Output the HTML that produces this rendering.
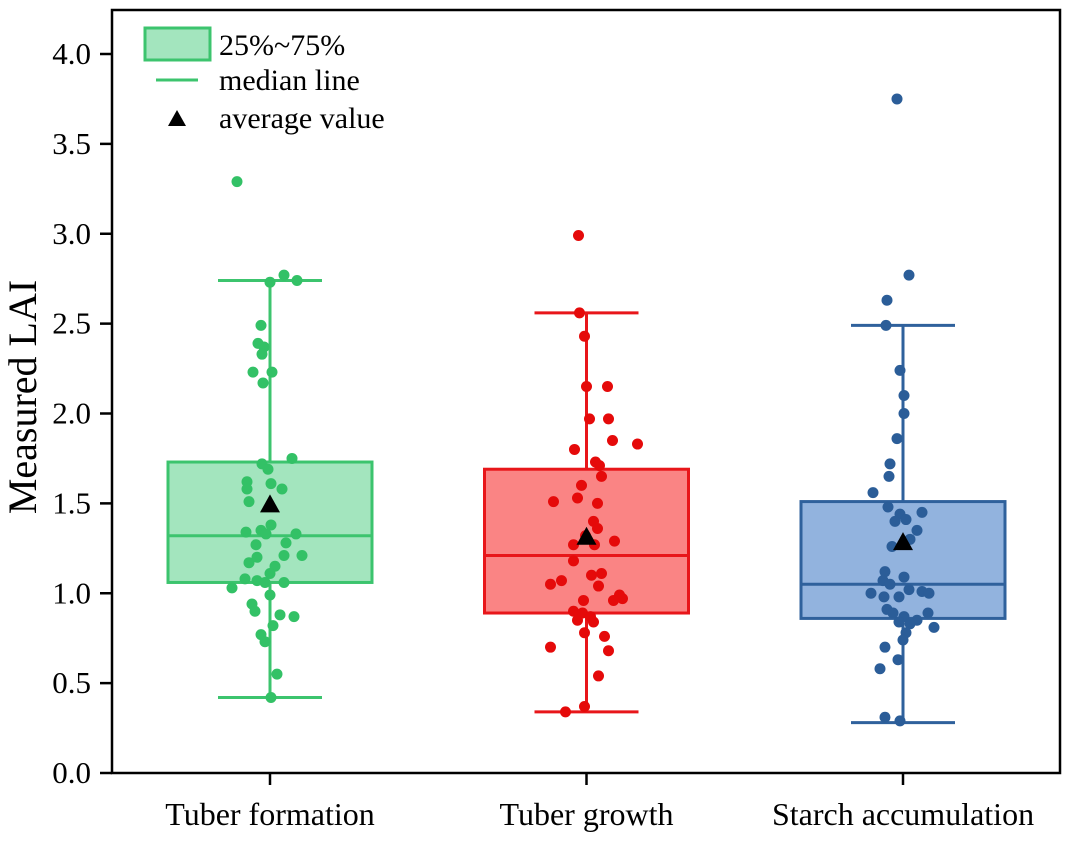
<!DOCTYPE html>
<html><head><meta charset="utf-8"><style>body{margin:0;background:#fff}svg{display:block;font-family:"Liberation Serif",serif}</style></head>
<body>
<svg id="chart" width="1071" height="842" xmlns="http://www.w3.org/2000/svg"></svg>
<script>
const categories=["Tuber formation","Tuber growth","Starch accumulation"];
const q1=[1.06,0.89,0.86];
const q3=[1.73,1.69,1.51];
const medians=[1.32,1.21,1.05];
const whiskLo=[0.42,0.34,0.28];
const whiskHi=[2.74,2.56,2.49];
const means=[1.50,1.32,1.29];
const yTicks=[0.0,0.5,1.0,1.5,2.0,2.5,3.0,3.5,4.0];
const yTickLabels=["0.0","0.5","1.0","1.5","2.0","2.5","3.0","3.5","4.0"];
const pts0=[3.29,2.77,2.74,2.73,2.49,2.39,2.37,2.33,2.23,2.23,2.17,1.75,1.72,1.69,1.62,1.58,1.61,1.58,1.51,1.38,1.35,1.33,1.33,1.34,1.27,1.28,1.17,1.2,1.21,1.21,1.15,1.11,1.08,1.07,1.06,1.06,1.03,0.99,0.94,0.9,0.88,0.87,0.82,0.77,0.73,0.55,0.42];
const jit0=[-33,14,27,0,-9,-12,-6,-8,-17,2,-7,22,-8,-2,-23,-23,1,12,-21,1,-9,-4,26,-24,-14,16,-21,-13,14,32,5,0,-25,-13,-5,14,-38,0,-18,-15,10,24,3,-9,-5,7,1];
const pts1=[2.99,2.56,2.43,2.15,2.15,1.97,1.97,1.85,1.83,1.80,1.73,1.71,1.65,1.6,1.53,1.51,1.5,1.4,1.36,1.32,1.29,1.27,1.27,1.18,1.1,1.11,1.07,1.05,1.04,0.99,0.97,0.96,0.96,0.9,0.89,0.87,0.85,0.84,0.78,0.76,0.7,0.68,0.54,0.37,0.34];
const jit1=[-8,-7,-2,0,21,3,22,26,51,-12,9,13,15,-5,-9,-33,11,7,11,-1,28,8,-13,-13,5,15,-25,-36,12,33,36,27,-3,-13,-4,4,-9,7,-2,18,-36,22,12,-2,-21];
const pts2=[3.75,2.77,2.63,2.49,2.24,2.1,2.0,1.86,1.72,1.65,1.56,1.48,1.44,1.41,1.4,1.45,1.35,1.30,1.26,1.12,1.07,1.05,1.09,1.02,1.01,0.98,1.0,0.98,1.0,0.91,0.89,0.87,0.85,0.89,0.84,0.83,0.81,0.78,0.74,0.7,0.63,0.58,0.31,0.29];
const jit2=[-6,6,-16,-17,-3,1,1,-6,-13,-14,-30,-15,-3,3,-8,19,14,7,-11,-18,-20,-13,1,6,19,-4,-32,-19,26,-16,-10,1,14,25,-4,7,31,3,0,-18,-5,-23,-18,-3];
const points=[pts0,pts1,pts2];
const jitter=[jit0,jit1,jit2];
const fills=["#a3e5be","#fa8484","#92b3de"];
const strokes=["#3cc46e","#e8161a","#2f619c"];
const dotCol=["#33c166","#e50a0a","#2b5d98"];
const NS="http://www.w3.org/2000/svg";
const svg=document.getElementById('chart');
const L=112,R=1060,T=10,B=773;
const y=v=>B-v*179.75;
const xc=i=>270+i*316.5;
function el(t,a,p){const e=document.createElementNS(NS,t);for(const k in a)e.setAttribute(k,a[k]);(p||svg).appendChild(e);return e;}
const fr=el('rect',{x:L,y:T,width:R-L,height:B-T,fill:'none',stroke:'#000','stroke-width':2.5});


yTicks.forEach((v,i)=>{
  const t=el('line',{x1:L-12,x2:L,y1:y(v),y2:y(v),stroke:'#000','stroke-width':2.5});
  
  
  const tx=el('text',{x:L-21,y:y(v)+10,'text-anchor':'end','font-size':31});
  tx.textContent=yTickLabels[i];
  
  
});
const yt=el('text',{x:0,y:0,transform:'translate(36,397) rotate(-90)','text-anchor':'middle','font-size':40});
yt.textContent='Measured LAI';


categories.forEach((c,i)=>{
  const X=xc(i),hw=102,cw=52;
  const g=el('g',{});
  
  
  const t=el('line',{x1:X,x2:X,y1:B,y2:B+12,stroke:'#000','stroke-width':2.5});
  
  
  const lb=el('text',{x:X,y:825,'text-anchor':'middle','font-size':32});
  lb.textContent=c;
  
  
  const s=strokes[i];
  const w=el('line',{x1:X,x2:X,y1:y(whiskLo[i]),y2:y(whiskHi[i]),stroke:s,'stroke-width':3},g);
  
  
  [whiskLo[i],whiskHi[i]].forEach(v=>{const c2=el('line',{x1:X-cw,x2:X+cw,y1:y(v),y2:y(v),stroke:s,'stroke-width':3},g);
    
    });
  const bx=el('rect',{x:X-hw,y:y(q3[i]),width:2*hw,height:y(q1[i])-y(q3[i]),fill:fills[i],stroke:s,'stroke-width':3},g);
  
  
  const md=el('line',{x1:X-hw,x2:X+hw,y1:y(medians[i]),y2:y(medians[i]),stroke:s,'stroke-width':3},g);
  
  
  points[i].forEach((v,k)=>{const d=el('circle',{cx:X+jitter[i][k],cy:y(v),r:5.5,fill:dotCol[i]},g);
    
    });
  const my=y(means[i]);
  const m=el('polygon',{points:`${X-10},${my+9} ${X+10},${my+9} ${X},${my-9}`,fill:'#000'},g);
  
  
});
const lg=el('g',{});


const lr=el('rect',{x:145,y:28,width:65,height:32,fill:'#a3e5be',stroke:'#3cc46e','stroke-width':3},lg);


const ll=el('line',{x1:156,x2:198,y1:80,y2:80,stroke:'#3cc46e','stroke-width':3},lg);


const lt=el('polygon',{points:'168,126 186,126 177,110',fill:'#000'},lg);


[["25%~75%",55],["median line",90],["average value",128]].forEach(a=>{
  const t=el('text',{x:219,y:a[1],'font-size':30},lg);t.textContent=a[0];
  
  
});
</script>
</body></html>
